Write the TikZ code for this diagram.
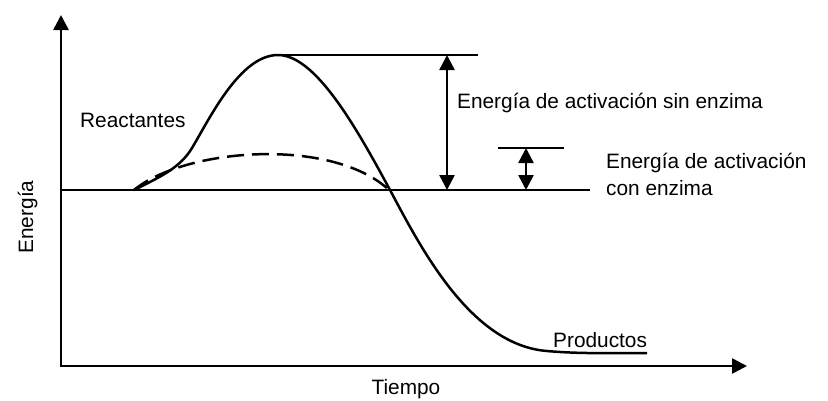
\documentclass[tikz,border=0pt]{standalone}
\usepackage{fontspec}
\setmainfont{Liberation Sans}
\usetikzlibrary{arrows.meta}
\begin{document}
\begin{tikzpicture}[x=1bp,y=-1bp,
  line/.style={line width=2.5bp},
  axisarrow/.style={line width=2.5bp,-{Triangle[length=15bp,width=15bp]}},
  dblarrow/.style={line width=2.5bp,{Triangle[length=15bp,width=15bp]}-{Triangle[length=15bp,width=15bp]}},
  lbl/.style={inner sep=0pt,font=\fontsize{20.9}{25}\selectfont}]
\useasboundingbox (0,0) rectangle (828,400);
% coordinates
\coordinate (O) at (61,366);
\coordinate (Ytop) at (61,15);
\coordinate (Xend) at (747,366);
\coordinate (B0) at (61,190);
\coordinate (B1) at (590,190);
\coordinate (T0) at (275,55);
\coordinate (T1) at (478,55);
\coordinate (S0) at (498,148);
\coordinate (S1) at (564,148);
\coordinate (A1top) at (447,55);
\coordinate (A1bot) at (447,190);
\coordinate (A2top) at (526,148);
\coordinate (A2bot) at (526,190);
\coordinate (Cs) at (134,190);
\coordinate (C1) at (192,148);
\coordinate (Cpk) at (278,55);
\coordinate (Cx) at (390,190);
\coordinate (C2) at (547,351);
\coordinate (Cend) at (647,353);
\coordinate (De) at (388,189);
% axes
\draw[axisarrow] ([yshift=-1.25bp]O) -- (Ytop);
\draw[axisarrow] ([xshift=-1.25bp]O) -- (Xend);
% lines
\draw[line] (B0) -- (B1);
\draw[line] (T0) -- (T1);
\draw[line] (S0) -- (S1);
% arrows
\draw[dblarrow] (A1top) -- (A1bot);
\draw[dblarrow] (A2top) -- (A2bot);
% curves
\draw[line,line join=round] (Cs) .. controls (160,177) and (180,168) .. (C1)
  .. controls (210,118) and (240,55) .. (Cpk)
  .. controls (315,55) and (355,125) .. (Cx)
  .. controls (420,246) and (470,345) .. (C2)
  .. controls (580,354) and (615,353) .. (Cend);
\draw[line,dash pattern=on 17bp off 8bp] (Cs) .. controls (185,148) and (330,137) .. (De);
% labels
\node[lbl,anchor=base west] (reac) at (80,127) {Reactantes};
\node[lbl,anchor=base west] (sin) at (457,108) {Energía de activación sin enzima};
\node[lbl,anchor=base west] (con1) at (606,168) {Energía de activación};
\node[lbl,anchor=base west] (con2) at (606,195) {con enzima};
\node[lbl,anchor=base west] (prod) at (553,347) {Productos};
\node[lbl,anchor=base] (tiempo) at (406,394) {Tiempo};
\node[lbl,anchor=base,rotate=90] (energia) at (33,217) {Energía};
\end{tikzpicture}
\end{document}
